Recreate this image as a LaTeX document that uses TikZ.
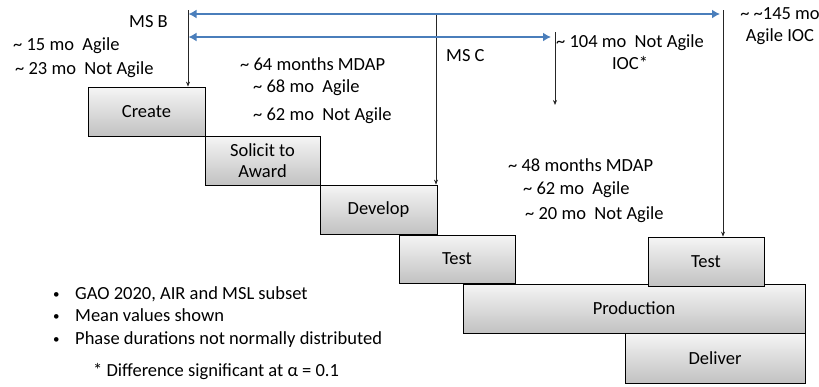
\documentclass[tikz,border=0pt]{standalone}
\usepackage{fontspec}
\setmainfont{Carlito}
\usetikzlibrary{arrows.meta}
\definecolor{spanblue}{HTML}{4A7EBB}
\newcommand{\bulletmark}{\makebox[22pt][l]{\raisebox{1pt}{\fontsize{13}{13}\selectfont\textbullet}}}
\tikzset{
  phase/.style={draw=black, line width=0.8pt, top color=gray!8, bottom color=gray!48,
    inner sep=0pt, align=center, font=\fontsize{18.5}{21}\selectfont},
  lbl/.style={anchor=west, inner sep=0pt, font=\fontsize{18.5}{22}\selectfont},
  marker/.style={draw=black!85, line width=0.7pt, -{Stealth[length=5pt,width=4pt]}},
  span/.style={draw=spanblue, line width=2.8pt, {Latex[length=8pt,width=9pt]}-{Latex[length=8pt,width=9pt]}}
}
\begin{document}
\begin{tikzpicture}[x=1pt,y=-1pt]
\useasboundingbox (0,0) rectangle (819,386);

% phase boxes
\node[phase, minimum width=117pt, minimum height=49pt] (create)  at (146.5,111.5) {Create};
\node[phase, minimum width=115pt, minimum height=49pt] (solicit) at (262.5,160.5) {Solicit to\\Award};
\node[phase, minimum width=117pt, minimum height=49pt] (develop) at (378.5,209.5) {Develop};
\node[phase, minimum width=116pt, minimum height=48pt] (test)    at (457,259) {Test};
\node[phase, minimum width=342pt, minimum height=49pt] (prod)    at (634,308.5) {Production};
\node[phase, minimum width=116pt, minimum height=49pt] (test2)   at (706,261.5) {Test};
\node[phase, minimum width=180pt, minimum height=50pt] (deliver) at (715,358) {Deliver};

% milestone markers
\coordinate (msb)  at (188,10);
\coordinate (msc)  at (436,14);
\coordinate (ioc)  at (555,32);
\coordinate (iocend) at (555,105);
\coordinate (aioc) at (723,10);
\draw[marker] (msb) -- (msb |- create.north);
\draw[marker] (msc) -- (msc |- develop.north);
\draw[marker] (ioc) -- (iocend);
\draw[marker] (aioc) -- (aioc |- test2.north);

% duration spans
\coordinate (s1a) at (188.5,14);
\coordinate (s1b) at (720,14);
\coordinate (s2a) at (188.5,37);
\coordinate (s2b) at (551,37);
\draw[span] (s1a) -- (s1b);
\draw[span] (s2a) -- (s2b);

% labels
\node[lbl] (tmsb) at (129,22) {MS B};
\node[lbl] (t15) at (13,46) {\~{} 15 mo\ \ Agile};
\node[lbl] (t23) at (15,70) {\~{} 23 mo\ \ Not Agile};
\node[lbl] (t64) at (240,64) {\~{} 64 months MDAP};
\node[lbl] (t68) at (253,88) {\~{} 68 mo\ \ Agile};
\node[lbl] (t62) at (253,116) {\~{} 62 mo\ \ Not Agile};
\node[lbl] (tmsc) at (446,56) {MS C};
\node[lbl, anchor=north, align=center] (t104) at (630,34) {\~{} 104 mo\ \ Not Agile\\IOC*};
\node[lbl, anchor=north, align=center] (t145) at (780,7) {\~{} \~{}145 mo\\Agile IOC};
\node[lbl] (t48) at (508,165) {\~{} 48 months MDAP};
\node[lbl] (t62b) at (523,190) {\~{} 62 mo\ \ Agile};
\node[lbl] (t20) at (525,215) {\~{} 20 mo\ \ Not Agile};

% notes
\node[lbl, anchor=north west, align=left, font=\fontsize{18.5}{22.5}\selectfont] (notes) at (53,286)
  {\bulletmark GAO 2020, AIR and MSL subset\\
   \bulletmark Mean values shown\\
   \bulletmark Phase durations not normally distributed};
\node[lbl] (tsig) at (93,372) {* Difference significant at α = 0.1};
\end{tikzpicture}
\end{document}
